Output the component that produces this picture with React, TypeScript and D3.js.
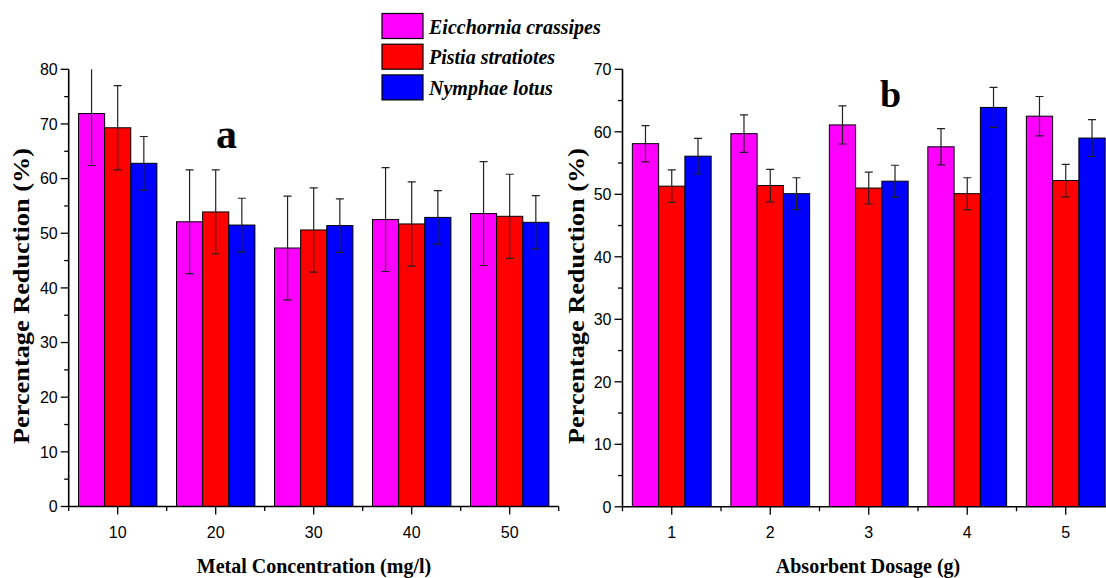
import { useEffect, useRef } from "react";
import * as d3 from "d3";

const SPECIES = ["Eicchornia crassipes", "Pistia stratiotes", "Nymphae lotus"];
const COLORS = ["#FF00FF", "#FF0000", "#0000FF"];

// panel a: metal concentration
const CONC = [10, 20, 30, 40, 50];
const A_EC = [71.9, 52.1, 47.3, 52.5, 53.6];
const A_EC_ERR = [9.5, 9.5, 9.5, 9.5, 9.5];
const A_PS = [69.3, 53.9, 50.6, 51.7, 53.1];
const A_PS_ERR = [7.7, 7.7, 7.7, 7.7, 7.7];
const A_NL = [62.8, 51.5, 51.4, 52.9, 52.0];
const A_NL_ERR = [4.9, 4.9, 4.9, 4.9, 4.9];
const A_YTICKS = [0, 10, 20, 30, 40, 50, 60, 70, 80];

// panel b: absorbent dosage
const DOSE = [1, 2, 3, 4, 5];
const B_EC = [58.1, 59.7, 61.1, 57.6, 62.5];
const B_EC_ERR = [2.9, 3.0, 3.05, 2.9, 3.15];
const B_PS = [51.3, 51.4, 51.0, 50.1, 52.2];
const B_PS_ERR = [2.6, 2.6, 2.55, 2.55, 2.6];
const B_NL = [56.1, 50.1, 52.1, 63.9, 59.0];
const B_NL_ERR = [2.85, 2.55, 2.55, 3.2, 2.95];
const B_YTICKS = [0, 10, 20, 30, 40, 50, 60, 70];

const W = 1106, H = 578;
const SANS = "'Liberation Sans', Arial, sans-serif";
const SERIF = "'Liberation Serif', 'Times New Roman', serif";

type Panel = {
  id: string;
  cats: number[];
  step: number;
  xDom: [number, number];
  xRange: [number, number];
  yMax: number;
  yTicks: number[];
  yBottom: number;
  yTop: number;
  series: { v: number[]; e: number[] }[];
  xTitle: string;
  xTitleX: number;
  yTitleX: number;
  letter: string;
  letterX: number;
  letterY: number;
  letterSize: number;
};

const PANELS: Panel[] = [
  {
    id: "a", cats: CONC, step: 10, xDom: [5, 55], xRange: [68.7, 558.7],
    yMax: 80, yTicks: A_YTICKS, yBottom: 506.5, yTop: 69.3,
    series: [{ v: A_EC, e: A_EC_ERR }, { v: A_PS, e: A_PS_ERR }, { v: A_NL, e: A_NL_ERR }],
    xTitle: "Metal Concentration (mg/l)", xTitleX: 314, yTitleX: 29,
    letter: "a", letterX: 216, letterY: 148, letterSize: 42,
  },
  {
    id: "b", cats: DOSE, step: 1, xDom: [0.5, 5.5], xRange: [622.5, 1115],
    yMax: 70, yTicks: B_YTICKS, yBottom: 506.8, yTop: 69.3,
    series: [{ v: B_EC, e: B_EC_ERR }, { v: B_PS, e: B_PS_ERR }, { v: B_NL, e: B_NL_ERR }],
    xTitle: "Absorbent Dosage (g)", xTitleX: 868, yTitleX: 584,
    letter: "b", letterX: 880, letterY: 107, letterSize: 38,
  },
];

export default function App() {
  const svgRef = useRef<SVGSVGElement>(null);

  useEffect(() => {
    const svg = d3.select(svgRef.current).attr("width", W).attr("height", H);
    svg.selectAll("*").remove();
    const defs = svg.append("defs");

    PANELS.forEach(p => {
      const x = d3.scaleLinear().domain(p.xDom).range(p.xRange);
      const y = d3.scaleLinear().domain([0, p.yMax]).range([p.yBottom, p.yTop]);
      const gw = p.step * 0.8;
      const bw = gw / 3;
      const x0 = p.xRange[0];

      defs.append("clipPath").attr("id", `clip-${p.id}`)
        .append("rect").attr("x", x0).attr("y", p.yTop).attr("width", W - x0).attr("height", p.yBottom - p.yTop);

      const g = svg.append("g").attr("clip-path", `url(#clip-${p.id})`);

      // bars
      p.series.forEach((s, si) => {
        g.selectAll(null).data(p.cats).enter().append("rect")
          .attr("x", (c) => x(c - gw / 2 + si * bw))
          .attr("y", (_, i) => y(s.v[i]))
          .attr("width", x(bw) - x(0))
          .attr("height", (_, i) => y(0) - y(s.v[i]))
          .attr("fill", COLORS[si])
          .attr("stroke", "#000").attr("stroke-width", 1);
      });

      // error bars
      p.series.forEach((s, si) => {
        p.cats.forEach((c, i) => {
          const cx = x(c - gw / 2 + (si + 0.5) * bw);
          const hi = y(s.v[i] + s.e[i]);
          const lo = y(s.v[i] - s.e[i]);
          g.append("line").attr("x1", cx).attr("x2", cx).attr("y1", hi).attr("y2", lo)
            .attr("stroke", "#222").attr("stroke-width", 1.2);
          [hi, lo].forEach(yy => g.append("line")
            .attr("x1", cx - 4).attr("x2", cx + 4).attr("y1", yy).attr("y2", yy)
            .attr("stroke", "#222").attr("stroke-width", 1.2));
        });
      });

      // axes
      const ax = svg.append("g");
      ax.append("line").attr("x1", x0).attr("x2", p.xRange[1]).attr("y1", p.yBottom).attr("y2", p.yBottom)
        .attr("stroke", "#000").attr("stroke-width", 1.6);
      ax.append("line").attr("x1", x0).attr("x2", x0).attr("y1", p.yTop).attr("y2", p.yBottom)
        .attr("stroke", "#000").attr("stroke-width", 1.6);

      // y ticks
      p.yTicks.forEach((t, i) => {
        ax.append("line").attr("x1", x0 - 8).attr("x2", x0).attr("y1", y(t)).attr("y2", y(t))
          .attr("stroke", "#000").attr("stroke-width", 1.3);
        if (i < p.yTicks.length - 1) {
          const m = (t + p.yTicks[i + 1]) / 2;
          ax.append("line").attr("x1", x0 - 4.5).attr("x2", x0).attr("y1", y(m)).attr("y2", y(m))
            .attr("stroke", "#000").attr("stroke-width", 1.3);
        }
        ax.append("text").attr("x", x0 - 11).attr("y", y(t)).attr("dy", "0.36em")
          .attr("text-anchor", "end").attr("font-family", SANS).attr("font-size", 16).attr("fill", "#000")
          .text(t);
      });

      // x ticks
      p.cats.forEach(c => {
        ax.append("line").attr("x1", x(c)).attr("x2", x(c)).attr("y1", p.yBottom).attr("y2", p.yBottom + 8)
          .attr("stroke", "#000").attr("stroke-width", 1.3);
        ax.append("text").attr("x", x(c)).attr("y", p.yBottom + 31)
          .attr("text-anchor", "middle").attr("font-family", SANS).attr("font-size", 16).attr("fill", "#000")
          .text(c);
      });
      [p.xDom[0], ...p.cats.map(c => c + p.step / 2)].forEach(m => {
        ax.append("line").attr("x1", x(m)).attr("x2", x(m)).attr("y1", p.yBottom).attr("y2", p.yBottom + 4.5)
          .attr("stroke", "#000").attr("stroke-width", 1.3);
      });

      // titles
      svg.append("text").attr("x", p.xTitleX).attr("y", 573).attr("text-anchor", "middle")
        .attr("font-family", SERIF).attr("font-weight", "bold").attr("font-size", 20).attr("fill", "#000")
        .text(p.xTitle);
      svg.append("text").attr("transform", `translate(${p.yTitleX},296) rotate(-90)`)
        .attr("text-anchor", "middle").attr("font-family", SERIF).attr("font-weight", "bold")
        .attr("font-size", 24).attr("textLength", 296).attr("lengthAdjust", "spacingAndGlyphs")
        .attr("fill", "#000").text("Percentage Reduction (%)");
      svg.append("text").attr("x", p.letterX).attr("y", p.letterY)
        .attr("font-family", SERIF).attr("font-weight", "bold").attr("font-size", p.letterSize)
        .attr("fill", "#000").text(p.letter);
    });

    // legend
    const lg = svg.append("g");
    SPECIES.forEach((s, i) => {
      const yy = 13.5 + i * 30.7;
      lg.append("rect").attr("x", 382).attr("y", yy).attr("width", 41).attr("height", 25)
        .attr("fill", COLORS[i]).attr("stroke", "#000").attr("stroke-width", 1.2);
      lg.append("text").attr("x", 429).attr("y", yy + 20)
        .attr("font-family", SERIF).attr("font-weight", "bold").attr("font-style", "italic")
        .attr("font-size", 20).attr("fill", "#000").text(s);
    });
  }, []);

  return (
    <div style={{ position: "absolute", left: 0, top: 0, width: W, height: H, background: "#fff", overflow: "hidden" }}>
      <svg ref={svgRef} width={W} height={H} style={{ display: "block" }} />
    </div>
  );
}
